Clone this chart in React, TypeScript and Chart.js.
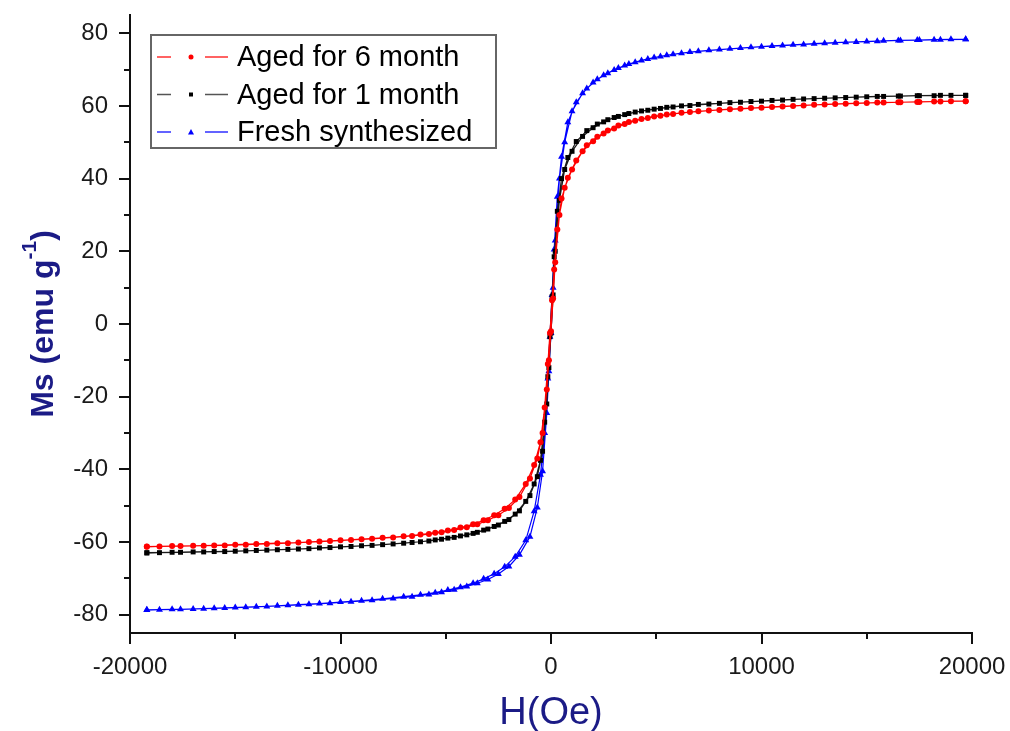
import React, { useEffect, useRef } from "react";
import { Chart, registerables } from "chart.js";

Chart.register(...registerables);

// Field values (Oe) – descending branch and ascending branch
const hDown = [19700, 19000, 18200, 17400, 16600, 15800, 15000, 14000, 13000, 12000, 11000, 10000, 9000, 8000, 7000, 6200, 5500, 4900, 4300, 3700, 3200, 2700, 2200, 1700, 1200, 800, 500, 300, 150, 50,
  -50, -150, -300, -500, -800, -1200, -1700, -2200, -2700, -3200, -3700, -4300, -4900, -5500, -6200, -7000, -8000, -9000, -10000, -11000, -12000, -13000, -14000, -15000, -16000, -17000, -18000, -19200];
const hUp = [-19200, -18600, -17600, -16500, -15500, -14500, -13500, -12500, -11500, -10500, -9500, -8500, -7500, -6600, -5800, -5200, -4600, -4000, -3500, -3000, -2500, -2000, -1500, -1000, -650, -400, -200, -100,
  0, 100, 200, 400, 650, 1000, 1500, 2000, 2500, 3000, 3500, 4000, 4600, 5200, 5800, 6600, 7500, 8500, 9500, 10500, 11500, 12500, 13500, 14500, 15500, 16500, 17500, 18500, 19700];

// Aged for 6 month (red)
const aged6Down = [61.3, 61.3, 61.2, 61.1, 61.0, 60.9, 60.8, 60.6, 60.4, 60.1, 59.8, 59.5, 59.2, 58.9, 58.5, 58.1, 57.6, 57.1, 56.4, 55.6, 54.6, 53.2, 51.5, 49.2, 45.0, 40.2, 34.5, 26.0, 15.0, 6.5,
  -2.5, -11.0, -23.0, -32.5, -38.8, -44.0, -48.3, -50.8, -52.6, -54.0, -55.1, -56.0, -56.8, -57.4, -57.9, -58.4, -58.8, -59.2, -59.5, -59.8, -60.1, -60.3, -60.5, -60.7, -60.9, -61.0, -61.1, -61.2];
const aged6Up = [-61.3, -61.2, -61.1, -61.0, -60.9, -60.7, -60.5, -60.3, -60.0, -59.7, -59.4, -59.1, -58.7, -58.3, -57.8, -57.3, -56.7, -55.9, -55.1, -54.0, -52.6, -50.6, -47.6, -42.5, -37.0, -30.0, -18.0, -10.0,
  -2.0, 7.0, 17.0, 30.0, 37.5, 42.5, 47.5, 50.3, 52.4, 53.8, 55.0, 55.9, 56.7, 57.3, 57.8, 58.3, 58.7, 59.1, 59.4, 59.7, 60.0, 60.3, 60.5, 60.7, 60.9, 61.0, 61.1, 61.2, 61.3];

// Aged for 1 month (black)
const aged1Down = [62.9, 62.9, 62.8, 62.8, 62.7, 62.6, 62.5, 62.3, 62.1, 61.9, 61.6, 61.3, 61.0, 60.7, 60.4, 60.0, 59.6, 59.1, 58.6, 57.9, 57.1, 56.2, 55.0, 53.2, 50.2, 45.8, 40.0, 31.0, 18.5, 7.5,
  -3.5, -14.5, -27.0, -37.5, -44.0, -48.8, -52.3, -54.3, -55.7, -56.7, -57.6, -58.3, -58.9, -59.4, -59.9, -60.3, -60.7, -61.0, -61.3, -61.6, -61.9, -62.1, -62.3, -62.5, -62.6, -62.7, -62.8, -62.9];
const aged1Up = [-63.0, -62.9, -62.8, -62.7, -62.6, -62.4, -62.2, -62.0, -61.8, -61.5, -61.2, -60.9, -60.5, -60.1, -59.7, -59.2, -58.7, -58.0, -57.3, -56.4, -55.3, -53.8, -51.4, -47.2, -42.0, -35.0, -22.0, -12.0,
  -2.5, 8.0, 20.0, 34.0, 42.5, 47.5, 51.6, 54.0, 55.6, 56.8, 57.6, 58.3, 58.8, 59.3, 59.7, 60.1, 60.5, 60.9, 61.2, 61.5, 61.8, 62.0, 62.2, 62.4, 62.6, 62.7, 62.8, 62.9, 62.9];

// Fresh synthesized (blue)
const freshDown = [78.3, 78.3, 78.2, 78.1, 78.0, 77.9, 77.7, 77.5, 77.2, 76.9, 76.6, 76.3, 75.9, 75.5, 75.0, 74.5, 73.9, 73.3, 72.5, 71.5, 70.4, 69.0, 67.3, 64.8, 61.0, 55.5, 46.0, 35.0, 20.5, 8.0,
  -3.5, -15.0, -30.0, -41.5, -51.5, -59.5, -64.0, -66.8, -68.7, -70.1, -71.3, -72.4, -73.2, -73.9, -74.5, -75.0, -75.6, -76.1, -76.5, -76.9, -77.2, -77.5, -77.8, -78.0, -78.2, -78.4, -78.5, -78.6];
const freshUp = [-78.7, -78.6, -78.5, -78.3, -78.1, -77.9, -77.7, -77.4, -77.1, -76.8, -76.4, -76.0, -75.5, -75.0, -74.4, -73.8, -73.1, -72.2, -71.3, -70.3, -68.8, -66.7, -63.5, -58.5, -50.5, -40.5, -24.5, -13.0,
  -2.5, 10.0, 23.0, 40.0, 50.0, 58.5, 63.5, 66.4, 68.4, 69.9, 71.1, 72.0, 72.9, 73.6, 74.2, 74.8, 75.3, 75.7, 76.1, 76.5, 76.8, 77.1, 77.4, 77.6, 77.8, 78.0, 78.1, 78.2, 78.3];

const seriesLabels = ["Aged for 6 month", "Aged for 1 month", "Fresh synthesized"];
const xTicks = [-20000, -10000, 0, 10000, 20000];
const xMinorTicks = [-15000, -5000, 5000, 15000];
const yTicks = [-80, -60, -40, -20, 0, 20, 40, 60, 80];
const yMinorTicks = [-70, -50, -30, -10, 10, 30, 50, 70];

const FONT = "'Liberation Sans', Arial, Helvetica, sans-serif";
const TITLE_COLOR = "#1b1b86";

function loop(hd: number[], md: number[], hu: number[], mu: number[]) {
  return hd.map((h, i) => ({ x: h, y: md[i] })).concat(hu.map((h, i) => ({ x: h, y: mu[i] })));
}

const decorPlugin = {
  id: "decor",
  afterDraw(chart: any) {
    const ctx = chart.ctx;
    const xs = chart.scales.x;
    const ys = chart.scales.y;
    const area = chart.chartArea;
    ctx.save();
    // minor ticks
    ctx.strokeStyle = "#111";
    ctx.lineWidth = 2;
    xMinorTicks.forEach((v) => {
      const px = Math.round(xs.getPixelForValue(v));
      ctx.beginPath();
      ctx.moveTo(px, area.bottom);
      ctx.lineTo(px, area.bottom + 6);
      ctx.stroke();
    });
    yMinorTicks.forEach((v) => {
      const py = Math.round(ys.getPixelForValue(v));
      ctx.beginPath();
      ctx.moveTo(area.left, py);
      ctx.lineTo(area.left - 6, py);
      ctx.stroke();
    });

    // legend
    const bx = area.left + 21, by = area.top + 20, bw = 345, bh = 113;
    ctx.strokeStyle = "#666";
    ctx.lineWidth = 2;
    ctx.strokeRect(bx, by, bw, bh);
    const rows = [
      { line: "#ff3030", mark: "#ff0000", style: "circle" },
      { line: "#555555", mark: "#000000", style: "rect" },
      { line: "#3030ff", mark: "#0000ff", style: "triangle" },
    ];
    rows.forEach((r, i) => {
      const cy = by + 22 + i * 37.5;
      ctx.strokeStyle = r.line;
      ctx.lineWidth = 1.3;
      ctx.beginPath();
      ctx.moveTo(bx + 6, cy);
      ctx.lineTo(bx + 20, cy);
      ctx.moveTo(bx + 54, cy);
      ctx.lineTo(bx + 77, cy);
      ctx.stroke();
      ctx.fillStyle = r.mark;
      ctx.beginPath();
      const mx = bx + 40;
      if (r.style === "circle") ctx.arc(mx, cy, 2.5, 0, Math.PI * 2);
      else if (r.style === "rect") ctx.rect(mx - 2, cy - 2, 4, 4);
      else {
        ctx.moveTo(mx, cy - 3);
        ctx.lineTo(mx + 3, cy + 2.5);
        ctx.lineTo(mx - 3, cy + 2.5);
        ctx.closePath();
      }
      ctx.fill();
      ctx.fillStyle = "#000";
      ctx.font = `29px ${FONT}`;
      ctx.textAlign = "left";
      ctx.textBaseline = "middle";
      ctx.fillText(seriesLabels[i], bx + 86, cy + 1);
    });

    // x title
    ctx.fillStyle = TITLE_COLOR;
    ctx.font = `38px ${FONT}`;
    ctx.textAlign = "center";
    ctx.textBaseline = "alphabetic";
    ctx.fillText("H(Oe)", (area.left + area.right) / 2, 724);

    // y title with superscript
    ctx.translate(53, (area.top + area.bottom) / 2);
    ctx.rotate(-Math.PI / 2);
    const mainFont = `bold 32px ${FONT}`;
    const supFont = `bold 21px ${FONT}`;
    ctx.font = mainFont;
    const p1 = "Ms (emu g";
    const p3 = ")";
    const w1 = ctx.measureText(p1).width;
    const w3 = ctx.measureText(p3).width;
    ctx.font = supFont;
    const p2 = "-1";
    const w2 = ctx.measureText(p2).width;
    const total = w1 + w2 + w3;
    const x0 = -total / 2;
    ctx.textAlign = "left";
    ctx.textBaseline = "alphabetic";
    ctx.font = mainFont;
    ctx.fillText(p1, x0, 0);
    ctx.font = supFont;
    ctx.fillText(p2, x0 + w1, -17);
    ctx.font = mainFont;
    ctx.fillText(p3, x0 + w1 + w2, 0);
    ctx.restore();
  },
};

export default function App() {
  const ref = useRef<HTMLCanvasElement>(null);
  useEffect(() => {
    document.body.style.margin = "0";
    const canvas = ref.current;
    if (!canvas) return;
    const chart = new Chart(canvas, {
      type: "scatter",
      data: {
        datasets: [
          {
            label: seriesLabels[0],
            data: loop(hDown, aged6Down, hUp, aged6Up),
            showLine: true,
            borderColor: "#ff0000",
            backgroundColor: "#ff0000",
            borderWidth: 1.2,
            pointStyle: "circle",
            pointRadius: 3,
            pointBorderWidth: 0,
          },
          {
            label: seriesLabels[1],
            data: loop(hDown, aged1Down, hUp, aged1Up),
            showLine: true,
            borderColor: "#1a1a1a",
            backgroundColor: "#000000",
            borderWidth: 1.2,
            pointStyle: "rect",
            pointRadius: 3.5,
            pointBorderWidth: 0,
          },
          {
            label: seriesLabels[2],
            data: loop(hDown, freshDown, hUp, freshUp),
            showLine: true,
            borderColor: "#0000ff",
            backgroundColor: "#0000ff",
            borderWidth: 1.2,
            pointStyle: "triangle",
            pointRadius: 4,
            pointBorderWidth: 0,
          },
        ],
      },
      options: {
        animation: false,
        responsive: false,
        layout: { padding: { left: 0, right: 38, top: 15, bottom: 0 } },
        plugins: { legend: { display: false }, tooltip: { enabled: false } },
        scales: {
          x: {
            type: "linear",
            min: -20000,
            max: 20000,
            afterFit: (s: any) => { s.height = 98; s.paddingLeft = 0; s.paddingRight = 0; },
            afterBuildTicks: (s: any) => { s.ticks = xTicks.map((v) => ({ value: v })); },
            grid: { display: true, drawOnChartArea: false, drawTicks: true, tickLength: 11, color: "#111", lineWidth: 2 },
            border: { display: true, color: "#111", width: 2 },
            ticks: {
              autoSkip: false,
              maxRotation: 0,
              padding: 9,
              color: "#1a1a1a",
              font: { family: FONT, size: 24 },
              callback: (v: any) => String(v),
            },
          },
          y: {
            type: "linear",
            min: -85,
            max: 85,
            afterFit: (s: any) => { s.width = 130; s.paddingTop = 0; s.paddingBottom = 0; },
            afterBuildTicks: (s: any) => { s.ticks = yTicks.map((v) => ({ value: v })); },
            grid: { display: true, drawOnChartArea: false, drawTicks: true, tickLength: 11, color: "#111", lineWidth: 2 },
            border: { display: true, color: "#111", width: 2 },
            ticks: {
              autoSkip: false,
              padding: 11,
              color: "#1a1a1a",
              font: { family: FONT, size: 24 },
              callback: (v: any) => String(v),
            },
          },
        },
      },
      plugins: [decorPlugin],
    });
    return () => chart.destroy();
  }, []);
  return (
    <div style={{ width: 1010, height: 731, background: "#fff" }}>
      <canvas ref={ref} width={1010} height={731} style={{ display: "block" }} />
    </div>
  );
}
